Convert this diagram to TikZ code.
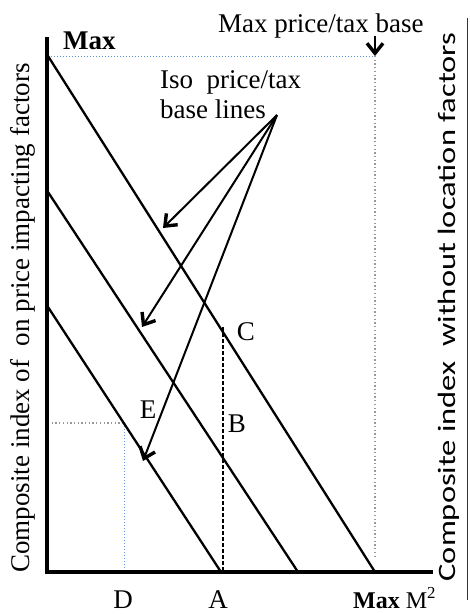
\documentclass[tikz,border=0pt]{standalone}
\usepackage{fontspec}
\setmainfont{Liberation Serif}
\newfontfamily\calib{Carlito}
\usetikzlibrary{arrows.meta}
\begin{document}
\begin{tikzpicture}[x=1pt,y=-1pt,
  axis/.style={line width=4.4pt},
  iso/.style={line width=2.3pt},
  ptr/.style={line width=2pt,-{Straight Barb[length=10pt,width=16pt,line width=3.4pt]}},
  bluedot/.style={draw={rgb,255:red,90;green,150;blue,215},line width=1pt,dash pattern=on 1pt off 2pt},
  graydot/.style={draw=gray!80,line width=1.4pt,dash pattern=on 1.3pt off 2.4pt},
  lbl/.style={inner sep=0pt,font=\fontsize{27}{30}\selectfont},
]
\useasboundingbox (0,0) rectangle (470,614);
% geometry
\coordinate (O) at (47,572);
\coordinate (Ytop) at (47,37);
\coordinate (Xend) at (433,572);
\coordinate (L1a) at (48,56);   \coordinate (L1b) at (375,572);
\coordinate (L2a) at (48,192);  \coordinate (L2b) at (298,572);
\coordinate (L3a) at (48,307);  \coordinate (L3b) at (221,572);
\coordinate (Ctop) at (223,327); \coordinate (Cbot) at (223,572);
\coordinate (MaxV) at (375,56); \coordinate (MaxVb) at (375,558);
\coordinate (Ey) at (48,423);   \coordinate (Ex) at (124,423); \coordinate (Dx) at (124,572);
\coordinate (apex) at (277,115);
\coordinate (t1) at (163,228);
\coordinate (t2) at (142,327);
\coordinate (t3) at (143,461);
\coordinate (mtop) at (375,36);
\coordinate (rtop) at (467,18); \coordinate (rbot) at (467,600);
% dotted guides
\draw[bluedot] (L1a) -- (MaxV);
\draw[graydot] (MaxV) -- (MaxVb);
\draw[graydot] (Ey) -- (Ex);
\draw[bluedot] (Ex) -- (Dx);
% iso lines
\draw[iso] (L1a) -- (L1b);
\draw[iso] (L2a) -- (L2b);
\draw[iso] (L3a) -- (L3b);
% dashed vertical
\draw[line width=2.2pt,dash pattern=on 4pt off 2pt] (Ctop) -- (Cbot);
% axes
\draw[axis] (Ytop) -- (47,574) ;
\draw[axis] (45,572) -- (Xend);
% arrows
\draw[ptr] (apex) -- (t1);
\draw[ptr] (apex) -- (t2);
\draw[ptr] (apex) -- (t3);
\draw[ptr] (mtop) -- (MaxV);
% right frame line
\draw[line width=1pt,draw=black!80] (rtop) -- (rbot);
% texts
\node[lbl,anchor=base west] (maxtop) at (63,49) {\bfseries Max};
\node[lbl,anchor=base west] (maxpt) at (218,32) {Max price/tax base};
\node[lbl,anchor=base west,align=left] (isolab) at (160,118) {Iso\ \ price/tax\\base lines};
\node[lbl,anchor=base] (C) at (246,340) {C};
\node[lbl,anchor=base] (B) at (237,432) {B};
\node[lbl,anchor=base] (E) at (148,418) {E};
\node[lbl,anchor=base] (D) at (123,608) {D};
\node[lbl,anchor=base] (A) at (218,608) {A};
\node[lbl,anchor=base west,font=\fontsize{24}{28}\selectfont] (maxm) at (353,608) {\bfseries Max\normalfont\ M\textsuperscript{2}};
\node[lbl,rotate=90,anchor=center] (ylab) at (23,318) {Composite index of\ \ on price impacting factors};
\node[inner sep=0pt,rotate=90,anchor=base,font=\calib\fontsize{25}{30}\selectfont] (rlab) at (455,307) {\scalebox{1.3}[1]{Composite index\ \ without location factors}};
\end{tikzpicture}
\end{document}
